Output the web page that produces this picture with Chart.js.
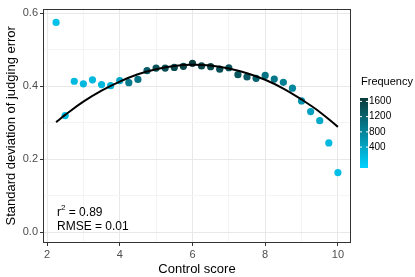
<!DOCTYPE html>
<html>
<head>
<meta charset="utf-8">
<script src="https://cdn.jsdelivr.net/npm/chart.js@4.4.1/dist/chart.umd.min.js"></script>
<style>
  html, body { margin: 0; padding: 0; background: #fff; }
  #wrap { width: 415px; height: 277px; }
</style>
</head>
<body>
<div id="wrap"><canvas id="chart" width="415" height="277"></canvas></div>
<script>
'use strict';

// control score bins
const scores = [2.25, 2.5, 2.75, 3, 3.25, 3.5, 3.75, 4, 4.25, 4.5, 4.75, 5, 5.25, 5.5, 5.75, 6,
  6.25, 6.5, 6.75, 7, 7.25, 7.5, 7.75, 8, 8.25, 8.5, 8.75, 9, 9.25, 9.5, 9.75, 10];
// sd of judging error
const sdError = [0.575, 0.320, 0.414, 0.407, 0.418, 0.405, 0.402, 0.416, 0.410, 0.419, 0.443, 0.450,
  0.450, 0.452, 0.455, 0.463, 0.456, 0.454, 0.447, 0.451, 0.432, 0.426, 0.422, 0.430,
  0.420, 0.411, 0.395, 0.360, 0.331, 0.306, 0.245, 0.164];
// how many judgements in each bin
const frequency = [60, 120, 150, 160, 170, 180, 220, 380, 900, 1000, 1300, 1400, 1450, 1500, 1550, 1650,
  1550, 1500, 1450, 1400, 1350, 1300, 1200, 1000, 950, 850, 750, 600, 450, 350, 150, 80];

// fitted curve
const fitX = [2.25, 2.5, 3, 3.5, 4, 4.5, 5, 5.5, 6, 6.5, 7, 7.5, 8, 8.5, 9, 9.5, 10];
const fitY = [0.302, 0.322, 0.358, 0.388, 0.413, 0.433, 0.447, 0.456, 0.459, 0.457, 0.449, 0.436,
  0.418, 0.394, 0.364, 0.330, 0.289];

const xTicks = [2, 3, 4, 5, 6, 7, 8, 9, 10];
const yTicks = [0, 0.1, 0.2, 0.3, 0.4, 0.5, 0.6];
const legendTicks = [400, 800, 1200, 1600];
const fitStats = ['0.89', '0.01'];

const freqLo = -150, freqHi = 1690;
const lowCol = [0, 210, 255];
const highCol = [10, 58, 58];

const colourFor = f => {
    let t = (f - freqLo) / (freqHi - freqLo);
    t = Math.max(0, Math.min(1, t));
    const c = lowCol.map((v, i) => Math.round(v + (highCol[i] - v) * t));
    return `rgb(${c[0]},${c[1]},${c[2]})`;
};

const grey = '#4d4d4d';
const fontFam = '"Liberation Sans", Arial, sans-serif';

const panelAndLegend = {
    id: 'panelAndLegend',
    afterDraw(chart) {
        const { ctx, chartArea: a } = chart;
        ctx.save();
        ctx.strokeStyle = '#333333';
        ctx.lineWidth = 1;
        ctx.strokeRect(Math.round(a.left) + 0.5, Math.round(a.top) + 0.5,
            Math.round(a.right - a.left) - 1, Math.round(a.bottom - a.top) - 1);

        // r2 / rmse text
        ctx.fillStyle = '#000';
        ctx.textBaseline = 'alphabetic';
        ctx.textAlign = 'left';
        ctx.font = '12px ' + fontFam;
        ctx.fillText('r', 57, 216);
        let w = ctx.measureText('r').width;
        ctx.font = '8px ' + fontFam;
        ctx.fillText('2', 57 + w, 210);
        w += ctx.measureText('2').width;
        ctx.font = '12px ' + fontFam;
        ctx.fillText(' = ' + fitStats[0], 57 + w, 216);
        ctx.fillText('RMSE = ' + fitStats[1], 57, 230);

        // colourbar
        const barX = 360, barW = 8, barTop = 98, barBot = 168;
        const grad = ctx.createLinearGradient(0, barBot, 0, barTop);
        grad.addColorStop(0, colourFor(freqLo));
        grad.addColorStop(1, colourFor(freqHi));
        ctx.fillStyle = grad;
        ctx.fillRect(barX, barTop, barW, barBot - barTop);
        ctx.fillStyle = '#000';
        ctx.font = '11px ' + fontFam;
        ctx.textBaseline = 'middle';
        ctx.fillText('Frequency', 361, 82);
        ctx.font = '10px ' + fontFam;
        legendTicks.forEach(v => {
            const y = barBot - (v - freqLo) / (freqHi - freqLo) * (barBot - barTop);
            ctx.strokeStyle = '#fff';
            ctx.beginPath();
            ctx.moveTo(barX, y); ctx.lineTo(barX + 2, y);
            ctx.moveTo(barX + barW - 2, y); ctx.lineTo(barX + barW, y);
            ctx.stroke();
            ctx.fillStyle = '#000';
            ctx.fillText(String(v), barX + barW + 1, y);
        });
        ctx.restore();
    }
};

const isMajor = (v, step) => Math.abs(Math.round(v / step) * step - v) < 1e-6;

const ctx = document.getElementById('chart').getContext('2d');
const myChart = new Chart(ctx, {
    type: 'scatter',
    data: {
        datasets: [
            {
                type: 'line',
                label: 'fit',
                data: fitX.map((x, i) => ({ x: x, y: fitY[i] })),
                borderColor: '#000',
                borderWidth: 2,
                pointRadius: 0,
                cubicInterpolationMode: 'default',
                tension: 0.4,
                fill: false
            },
            {
                label: 'bins',
                data: scores.map((x, i) => ({ x: x, y: sdError[i] })),
                pointRadius: 3.6,
                pointBorderWidth: 0,
                pointBackgroundColor: frequency.map(colourFor),
                pointBorderColor: 'rgba(0,0,0,0)'
            }
        ]
    },
    options: {
        responsive: false,
        animation: false,
        layout: { padding: { top: 1, right: 64, bottom: 0, left: 0 } },
        plugins: { legend: { display: false }, tooltip: { enabled: false } },
        scales: {
            x: {
                type: 'linear',
                min: 1.89,
                max: 10.36,
                afterBuildTicks: s => { s.ticks = xTicks.map(v => ({ value: v })); },
                afterFit: s => { s.height = 34; },
                ticks: {
                    color: grey,
                    font: { size: 11, family: fontFam },
                    padding: 2,
                    maxRotation: 0,
                    autoSkip: false,
                    callback: v => (isMajor(v, 2) ? String(v) : '')
                },
                grid: {
                    color: c => (isMajor(c.tick.value, 2) ? '#e8e8e8' : '#f4f4f4'),
                    tickColor: c => (isMajor(c.tick.value, 2) ? '#333333' : 'rgba(0,0,0,0)'),
                    tickLength: 3
                },
                border: { display: false },
                title: {
                    display: true,
                    text: 'Control score',
                    color: '#000',
                    font: { size: 13, family: fontFam },
                    padding: { top: 0, bottom: 0 }
                }
            },
            y: {
                type: 'linear',
                min: -0.029,
                max: 0.613,
                afterBuildTicks: s => { s.ticks = yTicks.map(v => ({ value: v })); },
                afterFit: s => { s.width = 43; },
                ticks: {
                    color: grey,
                    font: { size: 11, family: fontFam },
                    padding: 2,
                    autoSkip: false,
                    callback: v => (isMajor(v, 0.2) ? v.toFixed(1) : '')
                },
                grid: {
                    color: c => (isMajor(c.tick.value, 0.2) ? '#e8e8e8' : '#f4f4f4'),
                    tickColor: c => (isMajor(c.tick.value, 0.2) ? '#333333' : 'rgba(0,0,0,0)'),
                    tickLength: 3
                },
                border: { display: false },
                title: {
                    display: true,
                    text: 'Standard deviation of judging error',
                    color: '#000',
                    font: { size: 13, family: fontFam },
                    padding: { top: 4, bottom: 0 }
                }
            }
        }
    },
    plugins: [panelAndLegend]
});
</script>
</body>
</html>
